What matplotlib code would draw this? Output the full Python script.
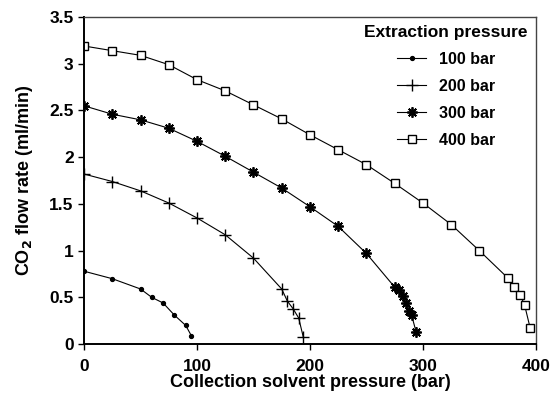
import matplotlib.pyplot as plt

plt.rcParams['font.family'] = ['Liberation Sans', 'DejaVu Sans']
plt.rcParams['font.weight'] = 'bold'

# collection solvent pressure (bar) / CO2 flow rate (ml/min)
x100 = [0, 25, 50, 60, 70, 80, 90, 95]
y100 = [0.78, 0.70, 0.59, 0.50, 0.44, 0.31, 0.20, 0.09]

x200 = [0, 25, 50, 75, 100, 125, 150, 175, 180, 185, 190, 194]
y200 = [1.82, 1.74, 1.64, 1.51, 1.35, 1.17, 0.92, 0.59, 0.46, 0.38, 0.28, 0.08]

x300 = [0, 25, 50, 75, 100, 125, 150, 175, 200, 225, 250,
        275, 279, 282, 285, 288, 290, 294]
y300 = [2.55, 2.46, 2.40, 2.31, 2.17, 2.01, 1.84, 1.67, 1.47, 1.26, 0.97,
        0.61, 0.58, 0.51, 0.44, 0.35, 0.31, 0.13]

x400 = [0, 25, 50, 75, 100, 125, 150, 175, 200, 225, 250, 275, 300,
        325, 350, 375, 381, 386, 390, 395]
y400 = [3.19, 3.14, 3.09, 2.99, 2.83, 2.71, 2.56, 2.41, 2.24, 2.08, 1.92, 1.72, 1.51,
        1.28, 1.00, 0.71, 0.61, 0.53, 0.42, 0.17]

fig = plt.figure(figsize=(5.53, 3.96), dpi=100)
ax = fig.add_axes([0.152, 0.131, 0.817, 0.826])

lw = 0.8
ax.plot(x100, y100, '-', color='black', lw=lw, marker='o', ms=2.8, label='100 bar')
ax.plot(x200, y200, '-', color='black', lw=lw, marker='+', ms=9, mew=1.0, label='200 bar')
ax.plot(x300, y300, '-', color='black', lw=lw, marker=(8, 2, 0), ms=7.5, mew=1.3, label='300 bar')
ax.plot(x400, y400, '-', color='black', lw=lw, marker='s', ms=6, mfc='white', mew=1.0, label='400 bar')

ax.set_xlim(0, 400)
ax.set_ylim(0, 3.5)
ax.set_xticks([0, 100, 200, 300, 400])
ax.set_yticks([0, 0.5, 1, 1.5, 2, 2.5, 3, 3.5])
ax.set_yticklabels(['0', '0.5', '1', '1.5', '2', '2.5', '3', '3.5'])
ax.tick_params(labelsize=12.5, length=4, width=1)
ax.tick_params(axis='x', pad=7)

for s in ['left', 'bottom']:
    ax.spines[s].set_linewidth(1.4)
for s in ['top', 'right']:
    ax.spines[s].set_linewidth(1.0)
    ax.spines[s].set_color('#444444')

ax.set_xlabel('Collection solvent pressure (bar)', fontsize=13, fontweight='bold', labelpad=0)
ax.set_ylabel('CO$_2$ flow rate (ml/min)', fontsize=13, fontweight='bold', labelpad=10)

leg = ax.legend(title='Extraction pressure', loc='upper right', frameon=False,
                fontsize=11.5, title_fontsize=12.5, handlelength=1.8, labelspacing=0.75,
                borderaxespad=0.1)
leg.get_title().set_fontweight('bold')
leg._legend_box.align = 'center'

fig.savefig('out.png', dpi=100)
